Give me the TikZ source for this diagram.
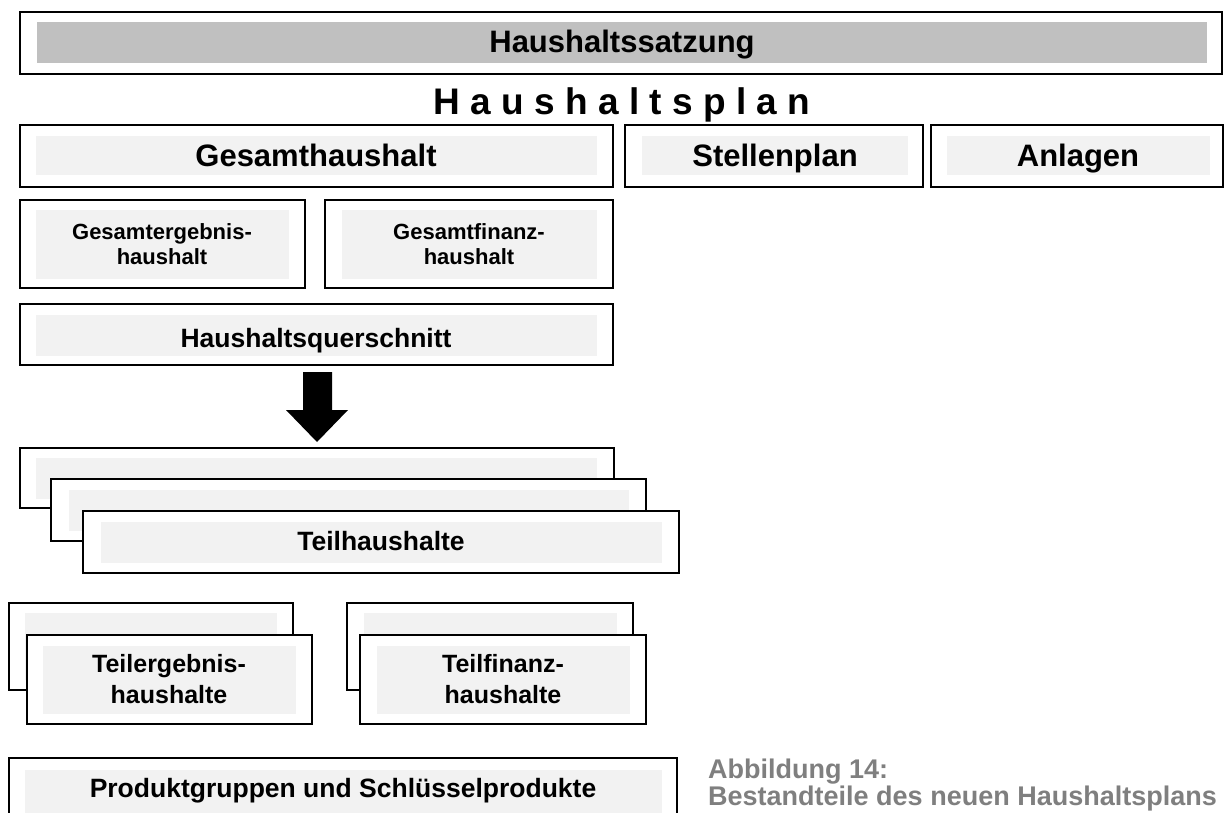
\documentclass[tikz,border=0pt]{standalone}
\usepackage{fontspec}
\setmainfont{Liberation Sans}
\usepackage{tikz}

\definecolor{hellgrau}{HTML}{F2F2F2}
\definecolor{balkengrau}{HTML}{C0C0C0}
\definecolor{schriftgrau}{HTML}{7F7F7F}

\tikzset{
	rahmen/.style={line width=1.8pt, draw=black, fill=white},
	feld/.style={fill=hellgrau},
	beschriftung/.style={inner sep=0pt, anchor=base, align=center},
	gross/.style={beschriftung, font=\fontsize{31}{36}\selectfont\bfseries},
	titel/.style={beschriftung, font=\fontsize{37}{42}\selectfont\bfseries},
	mittel/.style={beschriftung, font=\fontsize{26.5}{30}\selectfont\bfseries},
	klein/.style={beschriftung, font=\fontsize{22}{25}\selectfont\bfseries},
	teil/.style={beschriftung, font=\fontsize{25}{31}\selectfont\bfseries},
}

\begin{document}
\begin{tikzpicture}[x=1pt, y=-1pt]
		%%%%% START %%%%%
		\useasboundingbox (0,0) rectangle (1225,813);
		\clip (0,0) rectangle (1225,813);
		
		\draw[rahmen] (20,12) rectangle (1222,74);
		\fill[balkengrau] (37,22) rectangle (1207,63);
		\node[gross] (satzung) at (622,53) {Haushaltssatzung};
		
		\node[titel] (plan) at (622,115) {H a u s h a l t s p l a n};
		
		\draw[rahmen] (20,125) rectangle (613,187);
		\fill[feld] (36,136) rectangle (597,175);
		\node[gross] (gesamt) at (316,167) {Gesamthaushalt};
		
		\draw[rahmen] (625,125) rectangle (923,187);
		\fill[feld] (642,136) rectangle (908,175);
		\node[gross] (stellen) at (775,167) {Stellenplan};
		
		\draw[rahmen] (931,125) rectangle (1223,187);
		\fill[feld] (947,136) rectangle (1210,175);
		\node[gross] (anlagen) at (1078,167) {Anlagen};
		
		% Ergebnis- und Finanzhaushalt
		\draw[rahmen] (20,200) rectangle (305,288);
		\fill[feld] (36,210) rectangle (289,279);
		\node[klein] (ergebnis) at (162,264) {Gesamtergebnis-\\haushalt};
		
		\draw[rahmen] (325,200) rectangle (613,288);
		\fill[feld] (342,210) rectangle (597,279);
		\node[klein] (finanz) at (469,264) {Gesamtfinanz-\\haushalt};
		
		\draw[rahmen] (20,304) rectangle (613,365);
		\fill[feld] (36,315) rectangle (597,356);
		\node[mittel] (querschnitt) at (316,347) {Haushaltsquerschnitt};
		
		% Pfeil
		\fill[black] (303,372) -- (332,372) -- (332,410) -- (348,410) -- (317,442)
			-- (286,410) -- (303,410) -- cycle;
		
		% Teilhaushalte, drei Lagen
		\draw[rahmen] (20,448) rectangle (614,508);
		\fill[feld] (36,458) rectangle (597,499);
		\draw[rahmen] (51,479) rectangle (646,541);
		\fill[feld] (69,490) rectangle (629,531);
		\draw[rahmen] (83,511) rectangle (679,573);
		\fill[feld] (101,522) rectangle (662,563);
		\node[mittel] (teil) at (381,550) {Teilhaushalte};
		
		\draw[rahmen] (9,603) rectangle (293,690);
		\fill[feld] (25,613) rectangle (277,680);
		\draw[rahmen] (27,635) rectangle (312,724);
		\fill[feld] (43,646) rectangle (296,714);
		\node[teil] (teilergebnis) at (169,703) {Teilergebnis-\\haushalte};
		
		\draw[rahmen] (347,603) rectangle (633,690);
		\fill[feld] (364,613) rectangle (617,680);
		\draw[rahmen] (360,635) rectangle (646,724);
		\fill[feld] (377,646) rectangle (630,714);
		\node[teil] (teilfinanz) at (503,703) {Teilfinanz-\\haushalte};
		
		\draw[rahmen] (9,758) rectangle (677,840);
		\fill[feld] (25,770) rectangle (662,830);
		\node[mittel] (produkt) at (343,797) {Produktgruppen und Schl\"usselprodukte};
		
		\node[inner sep=0pt, anchor=base west, align=left, text=schriftgrau,
			font=\fontsize{27}{24}\selectfont\bfseries] (abb) at (708,805)
			{Abbildung 14:\\Bestandteile des neuen Haushaltsplans};
		
		%%%%% END %%%%%
\end{tikzpicture}
\end{document}
